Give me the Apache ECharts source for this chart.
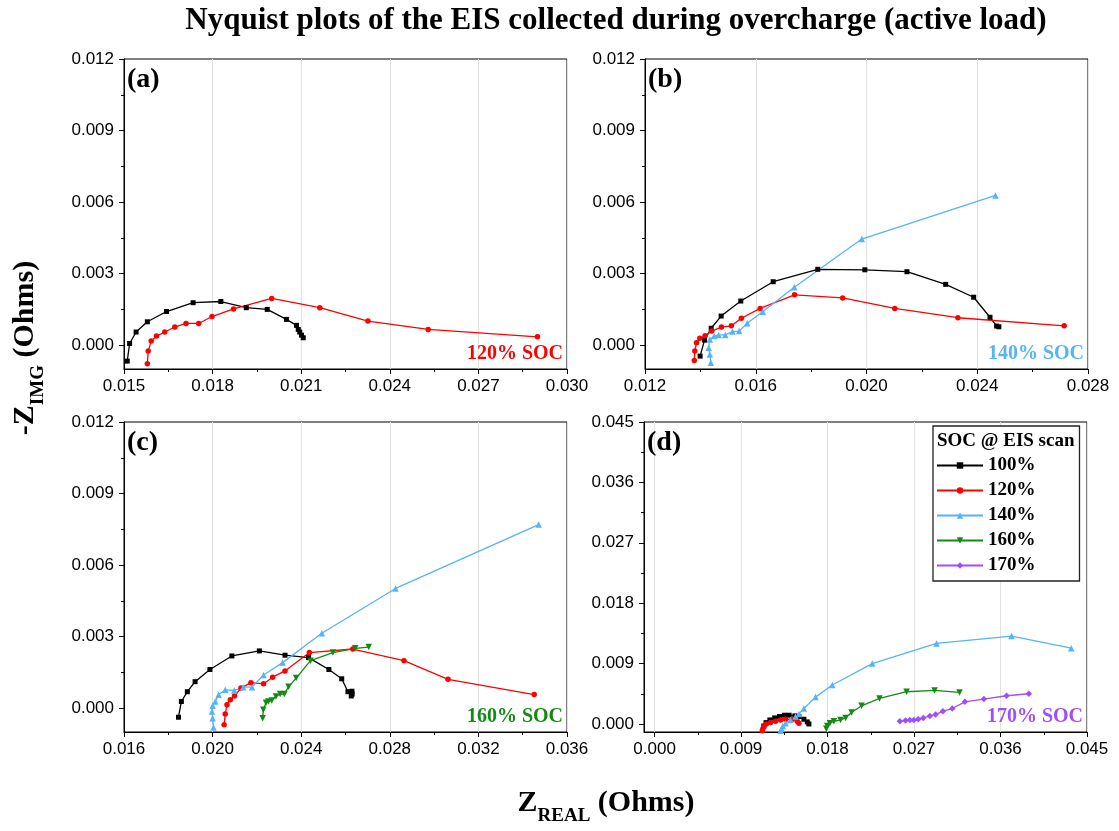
<!DOCTYPE html>
<html><head><meta charset="utf-8">
<script src="https://cdn.jsdelivr.net/npm/echarts@6/dist/echarts.min.js"></script>
<style>html,body{margin:0;padding:0;background:#fff}#c{width:1119px;height:831px}</style>
</head><body><div id="c"></div>
<script>
// ---------- DATA ----------
const seriesNames = ['100%', '120%', '140%', '160%', '170%'];
// panel (a) 120% SOC
const a100 = [[0.01511,-0.00067],[0.01519,0.00007],[0.01541,0.00055],[0.01579,0.00098],[0.01644,0.00141],[0.01734,0.00178],[0.01828,0.00183],[0.01914,0.00157],[0.01985,0.00150],[0.02050,0.00108],[0.02084,0.00083],[0.02090,0.00066],[0.02095,0.00055],[0.02101,0.00042],[0.02107,0.00031]];
const a120 = [[0.01579,-0.00078],[0.01582,-0.00025],[0.01592,0.00017],[0.01610,0.00038],[0.01638,0.00055],[0.01672,0.00076],[0.01710,0.00091],[0.01753,0.00091],[0.01798,0.00120],[0.01871,0.00152],[0.02000,0.00196],[0.02163,0.00157],[0.02326,0.00101],[0.02530,0.00066],[0.02900,0.00035]];
// panel (b) 140% SOC
const b100 = [[0.01399,-0.00046],[0.01415,0.00021],[0.01439,0.00071],[0.01475,0.00122],[0.01546,0.00185],[0.01663,0.00266],[0.01824,0.00318],[0.01994,0.00316],[0.02146,0.00308],[0.02286,0.00255],[0.02387,0.00201],[0.02446,0.00117],[0.02470,0.00080],[0.02478,0.00077]];
const b120 = [[0.01378,-0.00064],[0.01380,-0.00025],[0.01386,0.00010],[0.01398,0.00029],[0.01417,0.00039],[0.01441,0.00059],[0.01476,0.00076],[0.01512,0.00081],[0.01548,0.00113],[0.01616,0.00154],[0.01740,0.00211],[0.01914,0.00198],[0.02102,0.00154],[0.02330,0.00115],[0.02714,0.00081]];
const b140 = [[0.01438,-0.00074],[0.01434,-0.00039],[0.01430,-0.00011],[0.01434,0.00024],[0.01450,0.00038],[0.01466,0.00043],[0.01490,0.00043],[0.01516,0.00057],[0.01540,0.00059],[0.01569,0.00092],[0.01625,0.00140],[0.01739,0.00243],[0.01983,0.00445],[0.02466,0.00628]];
// panel (c) 160% SOC
const c100 = [[0.01846,-0.00038],[0.01859,0.00028],[0.01886,0.00069],[0.01921,0.00111],[0.01988,0.00162],[0.02087,0.00219],[0.02211,0.00240],[0.02327,0.00222],[0.02433,0.00212],[0.02525,0.00162],[0.02583,0.00123],[0.02611,0.00069],[0.02629,0.00071],[0.02626,0.00051],[0.02630,0.00059]];
const c120 = [[0.02052,-0.00070],[0.02057,-0.00024],[0.02065,0.00014],[0.02080,0.00035],[0.02099,0.00051],[0.02128,0.00084],[0.02173,0.00107],[0.02230,0.00102],[0.02271,0.00130],[0.02327,0.00156],[0.02437,0.00233],[0.02633,0.00248],[0.02864,0.00199],[0.03063,0.00121],[0.03452,0.00057]];
const c140 = [[0.02004,-0.00081],[0.02000,-0.00042],[0.01997,-0.00014],[0.02000,0.00010],[0.02012,0.00028],[0.02027,0.00056],[0.02057,0.00077],[0.02098,0.00074],[0.02138,0.00088],[0.02178,0.00088],[0.02230,0.00139],[0.02316,0.00191],[0.02493,0.00314],[0.02826,0.00502],[0.03472,0.00770]];
const c160 = [[0.02226,-0.00042],[0.02229,-0.00007],[0.02241,0.00023],[0.02252,0.00028],[0.02267,0.00032],[0.02286,0.00049],[0.02305,0.00059],[0.02324,0.00059],[0.02343,0.00090],[0.02377,0.00126],[0.02442,0.00199],[0.02543,0.00233],[0.02644,0.00251],[0.02705,0.00256]];
// panel (d) 170% SOC
const d100 = [[0.01137,-0.0003],[0.01160,0.0002],[0.01200,0.0006],[0.01250,0.0009],[0.01300,0.0011],[0.01353,0.0013],[0.01400,0.0013],[0.01460,0.0012],[0.01502,0.0011],[0.01554,0.0007],[0.01589,0.0003],[0.01606,0.0000]];
const d120 = [[0.01121,-0.0010],[0.01127,-0.0007],[0.01137,-0.0004],[0.01162,0.0000],[0.01207,0.0002],[0.01259,0.0004],[0.01311,0.0006],[0.01363,0.0007],[0.01433,0.0007],[0.01485,0.0004],[0.01502,0.0001]];
const d140 = [[0.01311,-0.0010],[0.01321,-0.0007],[0.01335,-0.0003],[0.01363,0.0001],[0.01415,0.0006],[0.01467,0.0011],[0.01502,0.0015],[0.01554,0.0023],[0.01675,0.0040],[0.01849,0.0058],[0.02265,0.0090],[0.02934,0.0120],[0.03715,0.0131],[0.04336,0.0113]];
const d160 = [[0.01787,-0.0007],[0.01797,-0.0003],[0.01824,0.0001],[0.01866,0.0004],[0.01935,0.0006],[0.01988,0.0009],[0.02050,0.0017],[0.02154,0.0027],[0.02341,0.0038],[0.02622,0.0048],[0.02914,0.0050],[0.03174,0.0047]];
const d170 = [[0.02553,0.0004],[0.02612,0.0005],[0.02657,0.0006],[0.02698,0.0006],[0.02744,0.0007],[0.02796,0.0009],[0.02865,0.0012],[0.02924,0.0014],[0.03000,0.0019],[0.03098,0.0023],[0.03229,0.0033],[0.03427,0.0037],[0.03663,0.0042],[0.03895,0.0045]];

// tick labels (major) and minor ticks
const xTicksA = [0.015, 0.018, 0.021, 0.024, 0.027, 0.030];
const xMinorA = [0.0165, 0.0195, 0.0225, 0.0255, 0.0285];
const xTicksB = [0.012, 0.016, 0.020, 0.024, 0.028];
const xMinorB = [0.014, 0.018, 0.022, 0.026];
const xTicksC = [0.016, 0.020, 0.024, 0.028, 0.032, 0.036];
const xMinorC = [0.018, 0.022, 0.026, 0.030, 0.034];
const xTicksD = [0.000, 0.009, 0.018, 0.027, 0.036, 0.045];
const xMinorD = [0.0045, 0.0135, 0.0225, 0.0315, 0.0405];
const yTicksABC = [0.000, 0.003, 0.006, 0.009, 0.012];
const yMinorABC = [0.0015, 0.0045, 0.0075, 0.0105];
const yTicksD = [0.000, 0.009, 0.018, 0.027, 0.036, 0.045];
const yMinorD = [0.0045, 0.0135, 0.0225, 0.0315, 0.0405];

const panelLabels = ['(a)', '(b)', '(c)', '(d)'];
const socLabels = ['120% SOC', '140% SOC', '160% SOC', '170% SOC'];

// ---------- STYLE ----------
const COLORS = {'100%':'#000000','120%':'#FF0000','140%':'#55B4F5','160%':'#138A13','170%':'#A04EF6'};
const SYMBOL = {'100%':'rect','120%':'circle','140%':'triangle','160%':'triangle','170%':'diamond'};
const SYMSIZE = {'100%':5,'120%':5.5,'140%':6.5,'160%':6.5,'170%':6.5};
const SYMROT = {'100%':0,'120%':0,'140%':0,'160%':180,'170%':0};
const SERIF = 'Liberation Serif';
const SANS = 'Liberation Sans';

const grids = [
  {left:124, top:59, width:443, height:310},
  {left:645, top:59, width:443, height:310},
  {left:124, top:422, width:443, height:310},
  {left:644, top:422, width:443, height:310}
];
const xRanges = [[0.015,0.030],[0.012,0.028],[0.016,0.036],[-0.0011,0.045]];
const yRanges = [[-0.001,0.012],[-0.001,0.012],[-0.001,0.012],[-0.0012,0.045]];
const xMaj = [xTicksA, xTicksB, xTicksC, xTicksD];
const xMin = [xMinorA, xMinorB, xMinorC, xMinorD];
const yMaj = [yTicksABC, yTicksABC, yTicksABC, yTicksD];
const yMin = [yMinorABC, yMinorABC, yMinorABC, yMinorD];

const fmt = v => Math.abs(v) < 1e-9 ? '0.000' : v.toFixed(3);

const xAxes = [], yAxes = [];
grids.forEach((g, i) => {
  xAxes.push({
    type:'value', gridIndex:i, min:xRanges[i][0], max:xRanges[i][1], position:'bottom',
    axisLine:{show:true, onZero:false, lineStyle:{color:'#000', width:1}},
    axisTick:{show:true, length:5, customValues:xMaj[i], lineStyle:{color:'#000'}},
    axisLabel:{show:true, customValues:xMaj[i], formatter:fmt, fontFamily:SANS, fontSize:17, color:'#000', margin:9},
    splitLine:{show:true, lineStyle:{color:'#e2e2e2', width:1}}
  });
  xAxes.push({
    type:'value', gridIndex:i, min:xRanges[i][0], max:xRanges[i][1], position:'bottom',
    axisLine:{show:false, onZero:false}, axisLabel:{show:false}, splitLine:{show:false},
    axisTick:{show:true, length:3, customValues:xMin[i], lineStyle:{color:'#000'}}
  });
  yAxes.push({
    type:'value', gridIndex:i, min:yRanges[i][0], max:yRanges[i][1], position:'left',
    axisLine:{show:true, onZero:false, lineStyle:{color:'#000', width:1}},
    axisTick:{show:true, length:5, customValues:yMaj[i], lineStyle:{color:'#000'}},
    axisLabel:{show:true, customValues:yMaj[i], formatter:fmt, fontFamily:SANS, fontSize:17, color:'#000', margin:10},
    splitLine:{show:false}
  });
  yAxes.push({
    type:'value', gridIndex:i, min:yRanges[i][0], max:yRanges[i][1], position:'left',
    axisLine:{show:false, onZero:false}, axisLabel:{show:false}, splitLine:{show:false},
    axisTick:{show:true, length:3, customValues:yMin[i], lineStyle:{color:'#000'}}
  });
});

function mk(name, data, gi) {
  const c = COLORS[name];
  return {
    type:'line', name:name, data:data, xAxisIndex:gi*2, yAxisIndex:gi*2,
    symbol:SYMBOL[name], symbolSize:SYMSIZE[name], symbolRotate:SYMROT[name],
    showSymbol:true, clip:false, animation:false,
    lineStyle:{color:c, width:1.3}, itemStyle:{color:c},
    emphasis:{disabled:true}
  };
}

const series = [
  mk('100%', a100, 0), mk('120%', a120, 0),
  mk('100%', b100, 1), mk('120%', b120, 1), mk('140%', b140, 1),
  mk('100%', c100, 2), mk('120%', c120, 2), mk('140%', c140, 2), mk('160%', c160, 2),
  mk('100%', d100, 3), mk('120%', d120, 3), mk('140%', d140, 3), mk('160%', d160, 3), mk('170%', d170, 3)
];

const socColors = ['120%', '140%', '160%', '170%'].map(n => COLORS[n]);
const graphics = [];
graphics.push({type:'text', x:616, y:21, z:100, style:{text:'Nyquist plots of the EIS collected during overcharge (active load)', fontFamily:SERIF, fontWeight:'bold', fontSize:31, fill:'#000', align:'center', verticalAlign:'middle'}});
grids.forEach((g, i) => {
  graphics.push({type:'text', x:g.left + 3, y:g.top + 21, z:100, style:{text:panelLabels[i], fontFamily:SERIF, fontWeight:'bold', fontSize:28, fill:'#000', align:'left', verticalAlign:'middle'}});
  graphics.push({type:'text', x:g.left + g.width - 4, y:g.top + g.height - 15, z:100, style:{text:socLabels[i], fontFamily:SERIF, fontWeight:'bold', fontSize:20, fill:socColors[i], align:'right', verticalAlign:'middle'}});
});
// legend title
graphics.push({type:'text', x:937, y:441, z:100, style:{text:'SOC @ EIS scan', fontFamily:SERIF, fontWeight:'bold', fontSize:19, fill:'#000', align:'left', verticalAlign:'middle'}});
// axis titles (Z with subscript)
const richT = {
  z:{fontFamily:SERIF, fontWeight:'bold', fontSize:30, lineHeight:38, verticalAlign:'top', color:'#000'},
  s:{fontFamily:SERIF, fontWeight:'bold', fontSize:19, lineHeight:38, verticalAlign:'bottom', color:'#000'}
};
graphics.push({type:'text', x:606, y:807, z:100, style:{text:'{z|Z}{s|REAL}{z| (Ohms)}', rich:richT, align:'center', verticalAlign:'middle'}});
graphics.push({type:'text', x:29, y:348, rotation:Math.PI/2, z:100, style:{text:'{z|-Z}{s|IMG}{z| (Ohms)}', rich:richT, align:'center', verticalAlign:'middle'}});

const option = {
  animation:false,
  backgroundColor:'#fff',
  grid: grids.map(g => Object.assign({show:true, borderColor:'#000', borderWidth:1, backgroundColor:'transparent'}, g)),
  xAxis: xAxes,
  yAxis: yAxes,
  legend: {
    data: seriesNames, orient:'vertical', left:933, top:426,
    itemWidth:46, itemHeight:8, itemGap:0,
    padding:[27, 44, 3, 3],
    borderColor:'#222', borderWidth:1.3, backgroundColor:'#fff',
    selectedMode:false, z:50,
    textStyle:{fontFamily:SERIF, fontWeight:'bold', fontSize:19, color:'#000', lineHeight:25}
  },
  graphic: graphics,
  series: series
};
const chart = echarts.init(document.getElementById('c'));
chart.setOption(option);
</script>
</body></html>
